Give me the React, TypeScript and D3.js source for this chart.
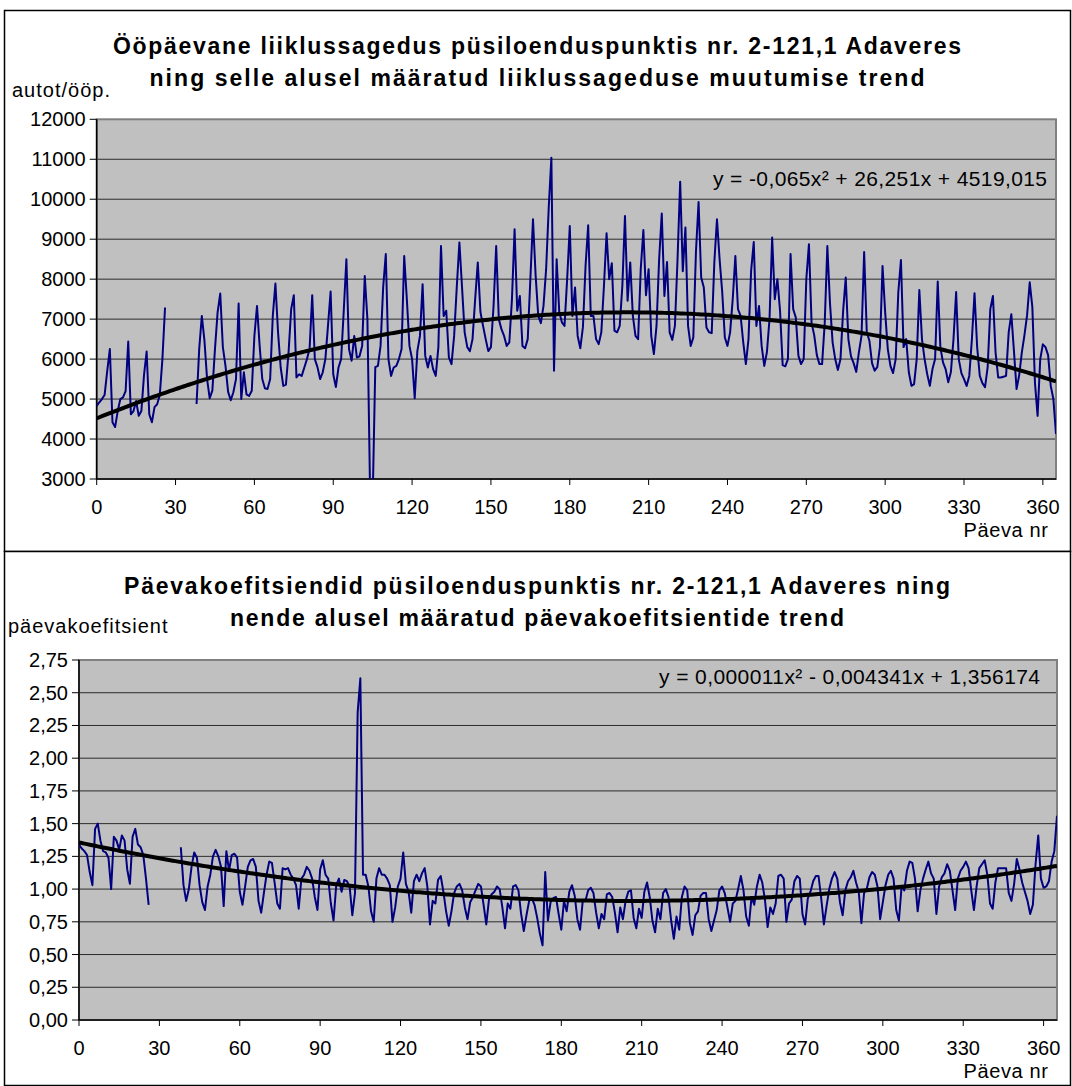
import * as d3 from "d3";

const FONT = "Arial, 'Liberation Sans', Helvetica, sans-serif";

const DAY_TICKS = [0, 30, 60, 90, 120, 150, 180, 210, 240, 270, 300, 330, 360];
const TRAFFIC_TICKS = [3000, 4000, 5000, 6000, 7000, 8000, 9000, 10000, 11000, 12000];
const COEF_TICKS = [0, 0.25, 0.5, 0.75, 1, 1.25, 1.5, 1.75, 2, 2.25, 2.5, 2.75];

// daily traffic, one row per week (Sun..Sat), null = no count
const TRAFFIC: (number | null)[] = [
  4830, 4920, 5000, 5100, 5700, 6250, 4420,
  4300, 4700, 5000, 5040, 5200, 6440, 4620,
  4700, 4950, 4580, 4700, 5600, 6190, 4620,
  4420, 4800, 4870, 5100, 6000, 7290, null,
  null, null, null, null, null, null, null,
  null, null, null, 4875, 6250, 7080, 6460,
  5500, 5020, 5210, 6250, 7170, 7640, 6300,
  5830, 5180, 4970, 5170, 5500, 7390, 5000,
  5670, 5120, 5080, 5210, 6580, 7330, 6330,
  5500, 5270, 5250, 5500, 7080, 7890, 6670,
  5790, 5330, 5360, 6170, 7250, 7600, 5540,
  5620, 5580, 5790, 6000, 6250, 7600, 6000,
  5800, 5500, 5670, 6000, 6830, 7690, 5620,
  5300, 5790, 6000, 7210, 8500, 6250, 5960,
  6580, 6040, 6070, 6330, 8080, 7000, 2750,
  2470, 5800, 5830, 6330, 7800, 8630, 6000,
  5580, 5790, 5830, 6000, 6250, 8580, 7500,
  6330, 6000, 5020, 6200, 6580, 7875, 6080,
  5790, 6080, 5750, 5580, 6300, 8830, 7080,
  7210, 6040, 5875, 6580, 7800, 8920, 7800,
  6670, 6300, 6200, 6500, 7500, 8420, 7180,
  6830, 6500, 6200, 6300, 7330, 8830, 7000,
  6750, 6580, 6330, 6420, 7500, 9250, 7210,
  7580, 6330, 6270, 6500, 8000, 9500, 8100,
  7080, 6900, 7330, 8250, 9800, 11040, 5710,
  8500, 7170, 6920, 6830, 8000, 9330, 7080,
  7790, 6580, 6270, 6800, 8330, 9350, 7080,
  7080, 6500, 6375, 6670, 7830, 9150, 8000,
  8400, 6710, 6670, 6830, 7830, 9580, 7460,
  8420, 7080, 6580, 6500, 8250, 9230, 7600,
  8250, 6580, 6125, 6830, 8500, 9640, 7580,
  8430, 6670, 6480, 6830, 8500, 10440, 8200,
  9290, 6830, 6330, 6540, 8670, 9930, 8040,
  7790, 6790, 6670, 6650, 8420, 9500, 8500,
  7680, 6540, 6330, 6670, 7500, 8580, 7250,
  7080, 6420, 5875, 6500, 8210, 8930, 6830,
  7330, 6330, 5830, 6170, 7000, 9040, 7500,
  8000, 7210, 5850, 5820, 6000, 8630, 7250,
  7040, 6080, 5875, 6000, 8000, 8875, 6900,
  6600, 6100, 5875, 5875, 6900, 8830, 7400,
  6420, 6000, 5730, 6000, 7200, 8040, 6500,
  6070, 5900, 5680, 6170, 6580, 8680, 6670,
  6460, 5900, 5710, 5800, 6300, 8330, 7170,
  6250, 5830, 5650, 6000, 7670, 8480, 6300,
  6500, 5670, 5330, 5375, 6000, 7730, 6500,
  6000, 5620, 5330, 5750, 6000, 7940, 6300,
  5920, 5750, 5420, 5670, 6500, 7680, 6000,
  5650, 5500, 5330, 5580, 6500, 7650, 6300,
  5580, 5400, 5300, 5800, 7250, 7580, 6170,
  5540, 5540, 5560, 5580, 6670, 7125, 6200,
  5250, 5600, 6170, 6600, 7100, 7920, 7300,
  5400, 4580, 6000, 6370, 6300, 6100, 5330,
  5000, 4125,
];

// day coefficients, same layout
const COEF: (number | null)[] = [
  1.34, 1.31, 1.29, 1.26, 1.13, 1.03, 1.46,
  1.50, 1.37, 1.29, 1.28, 1.24, 1.00, 1.40,
  1.37, 1.30, 1.41, 1.37, 1.15, 1.04, 1.40,
  1.46, 1.34, 1.32, 1.26, 1.08, 0.88, null,
  null, null, null, null, null, null, null,
  null, null, null, 1.32, 1.03, 0.91, 1.00,
  1.17, 1.28, 1.24, 1.03, 0.90, 0.84, 1.02,
  1.11, 1.25, 1.30, 1.25, 1.17, 0.87, 1.29,
  1.14, 1.26, 1.27, 1.24, 0.98, 0.88, 1.02,
  1.17, 1.22, 1.23, 1.17, 0.91, 0.82, 0.97,
  1.11, 1.21, 1.20, 1.05, 0.89, 0.85, 1.16,
  1.15, 1.16, 1.11, 1.08, 1.03, 0.85, 1.08,
  1.11, 1.17, 1.14, 1.08, 0.94, 0.84, 1.15,
  1.22, 1.11, 1.08, 0.89, 0.76, 1.03, 1.08,
  0.98, 1.07, 1.06, 1.02, 0.80, 0.97, 2.35,
  2.61, 1.11, 1.11, 1.02, 0.83, 0.75, 1.08,
  1.16, 1.11, 1.11, 1.08, 1.03, 0.75, 0.86,
  1.02, 1.08, 1.28, 1.04, 0.98, 0.82, 1.06,
  1.11, 1.06, 1.12, 1.16, 1.02, 0.73, 0.91,
  0.89, 1.07, 1.10, 0.98, 0.83, 0.72, 0.83,
  0.97, 1.02, 1.04, 0.99, 0.86, 0.77, 0.90,
  0.94, 0.99, 1.04, 1.02, 0.88, 0.73, 0.92,
  0.96, 0.98, 1.02, 1.00, 0.86, 0.70, 0.89,
  0.85, 1.02, 1.03, 0.99, 0.81, 0.68, 0.80,
  0.91, 0.93, 0.88, 0.78, 0.66, 0.57, 1.13,
  0.76, 0.90, 0.93, 0.94, 0.81, 0.69, 0.91,
  0.83, 0.98, 1.03, 0.95, 0.77, 0.69, 0.91,
  0.91, 0.99, 1.01, 0.97, 0.82, 0.70, 0.81,
  0.77, 0.96, 0.97, 0.94, 0.82, 0.67, 0.86,
  0.77, 0.91, 0.98, 0.99, 0.78, 0.70, 0.85,
  0.78, 0.98, 1.05, 0.94, 0.76, 0.67, 0.85,
  0.77, 0.97, 1.00, 0.94, 0.76, 0.62, 0.79,
  0.69, 0.94, 1.02, 0.99, 0.74, 0.65, 0.80,
  0.83, 0.95, 0.97, 0.97, 0.77, 0.68, 0.76,
  0.84, 0.99, 1.02, 0.97, 0.86, 0.75, 0.89,
  0.91, 1.00, 1.10, 0.99, 0.79, 0.72, 0.94,
  0.88, 1.02, 1.11, 1.05, 0.92, 0.71, 0.86,
  0.81, 0.89, 1.10, 1.11, 1.08, 0.75, 0.89,
  0.92, 1.06, 1.10, 1.08, 0.81, 0.73, 0.93,
  0.98, 1.06, 1.10, 1.10, 0.93, 0.73, 0.87,
  1.00, 1.08, 1.13, 1.08, 0.90, 0.80, 0.99,
  1.06, 1.09, 1.14, 1.05, 0.98, 0.74, 0.97,
  1.00, 1.09, 1.13, 1.11, 1.02, 0.77, 0.90,
  1.03, 1.11, 1.14, 1.08, 0.84, 0.76, 1.02,
  0.99, 1.14, 1.21, 1.20, 1.08, 0.83, 0.99,
  1.08, 1.15, 1.21, 1.12, 1.08, 0.81, 1.02,
  1.09, 1.12, 1.19, 1.14, 0.99, 0.84, 1.08,
  1.14, 1.17, 1.21, 1.16, 0.99, 0.84, 1.02,
  1.16, 1.19, 1.22, 1.11, 0.89, 0.85, 1.05,
  1.16, 1.16, 1.16, 1.16, 0.97, 0.91, 1.04,
  1.23, 1.15, 1.05, 0.98, 0.91, 0.81, 0.88,
  1.19, 1.41, 1.08, 1.01, 1.02, 1.06, 1.21,
  1.29, 1.56,
];

// polynomial trendlines a*x^2 + b*x + c
const TRAFFIC_TREND = [-0.065, 26.251, 4519.015];
const COEF_TREND = [0.00001055, -0.004341, 1.356174];

type Box = { left: number; right: number; top: number; bottom: number };
type Label = { text: string; x: number; y: number; len?: number };

type PanelProps = {
  id: string;
  frameTop: number;
  frameBottom: number;
  plot: Box;
  yDomain: [number, number];
  yTicks: number[];
  fmt: (v: number) => string;
  values: (number | null)[];
  trend: number[];
  titles: Label[];
  yLabel: Label;
  equation: Label;
};

const Panel = ({ id, frameTop, frameBottom, plot, yDomain, yTicks, fmt, values, trend, titles, yLabel, equation }: PanelProps) => {
  const x = d3.scaleLinear().domain([0, 365]).range([plot.left, plot.right]);
  const y = d3.scaleLinear().domain(yDomain).range([plot.bottom, plot.top]);

  const dataPath = d3
    .line<number | null>()
    .defined((d) => d != null)
    .x((_, i) => x(i))
    .y((d) => y(d as number))(values);

  const trendPts: [number, number][] = d3
    .range(0, 365.5, 1)
    .map((d) => [d, trend[0] * d * d + trend[1] * d + trend[2]]);
  const trendPath = d3
    .line<[number, number]>()
    .x((d) => x(d[0]))
    .y((d) => y(d[1]))(trendPts);

  return (
    <g>
      <rect x={4.5} y={frameTop} width={1066} height={frameBottom - frameTop} fill="#fff" stroke="#000" strokeWidth={1.5} />
      {titles.map((t, i) => (
        <text key={i} x={t.x} y={t.y} textAnchor="middle" fontSize={23} fontWeight="bold" textLength={t.len} lengthAdjust="spacing">
          {t.text}
        </text>
      ))}
      <text x={yLabel.x} y={yLabel.y} fontSize={20} letterSpacing={1}>
        {yLabel.text}
      </text>

      <clipPath id={id}>
        <rect x={plot.left} y={plot.top} width={plot.right - plot.left} height={plot.bottom - plot.top} />
      </clipPath>
      <rect x={plot.left} y={plot.top} width={plot.right - plot.left} height={plot.bottom - plot.top} fill="#c0c0c0" />

      {yTicks.slice(1, -1).map((v) => (
        <line key={v} x1={plot.left} x2={plot.right} y1={y(v)} y2={y(v)} stroke="#2b2b2b" strokeWidth={1} />
      ))}
      <rect x={plot.left} y={plot.top} width={plot.right - plot.left} height={plot.bottom - plot.top} fill="none" stroke="#808080" strokeWidth={2} />
      <line x1={plot.left} x2={plot.left} y1={plot.top} y2={plot.bottom} stroke="#000" strokeWidth={1.5} />
      <line x1={plot.left} x2={plot.right} y1={plot.bottom} y2={plot.bottom} stroke="#000" strokeWidth={1.5} />

      {yTicks.map((v) => (
        <g key={v}>
          <line x1={plot.left - 7} x2={plot.left} y1={y(v)} y2={y(v)} stroke="#000" strokeWidth={1} />
          <text x={plot.left - 11} y={y(v) + 7} textAnchor="end" fontSize={20}>
            {fmt(v)}
          </text>
        </g>
      ))}
      {DAY_TICKS.map((d) => (
        <g key={d}>
          <line x1={x(d)} x2={x(d)} y1={plot.bottom} y2={plot.bottom + 6} stroke="#000" strokeWidth={1} />
          <text x={x(d)} y={plot.bottom + 35} textAnchor="middle" fontSize={20}>
            {d}
          </text>
        </g>
      ))}
      <text x={1006} y={plot.bottom + 58} textAnchor="middle" fontSize={20} letterSpacing={0.6}>
        Päeva nr
      </text>

      <g clipPath={`url(#${id})`}>
        <path d={dataPath ?? ""} fill="none" stroke="#000080" strokeWidth={2} strokeLinejoin="round" />
        <path d={trendPath ?? ""} fill="none" stroke="#000" strokeWidth={4} strokeLinejoin="round" />
      </g>

      <text x={equation.x} y={equation.y} textAnchor="end" fontSize={21} textLength={equation.len} lengthAdjust="spacing">
        {equation.text}
      </text>
    </g>
  );
};

const fmtInt = (v: number) => String(v);
const fmtCoef = (v: number) => d3.format(".2f")(v).replace(".", ",");

export default function App() {
  return (
    <svg
      width={1072}
      height={1086}
      style={{ position: "absolute", left: 0, top: 0, background: "#fff" }}
      fontFamily={FONT}
    >
      <Panel
        id="clip-top"
        frameTop={10.5}
        frameBottom={551.5}
        plot={{ left: 96.7, right: 1056, top: 119.3, bottom: 479 }}
        yDomain={[3000, 12000]}
        yTicks={TRAFFIC_TICKS}
        fmt={fmtInt}
        values={TRAFFIC}
        trend={TRAFFIC_TREND}
        titles={[
          { text: "Ööpäevane liiklussagedus püsiloenduspunktis nr. 2-121,1 Adaveres", x: 537, y: 54, len: 848 },
          { text: "ning selle alusel määratud liiklussageduse muutumise trend", x: 537, y: 86, len: 775 },
        ]}
        yLabel={{ text: "autot/ööp.", x: 12, y: 97 }}
        equation={{ text: "y = -0,065x² + 26,251x + 4519,015", x: 1047, y: 186, len: 334 }}
      />
      <Panel
        id="clip-bottom"
        frameTop={551.5}
        frameBottom={1085.5}
        plot={{ left: 79, right: 1057, top: 660, bottom: 1020 }}
        yDomain={[0, 2.75]}
        yTicks={COEF_TICKS}
        fmt={fmtCoef}
        values={COEF}
        trend={COEF_TREND}
        titles={[
          { text: "Päevakoefitsiendid püsiloenduspunktis nr. 2-121,1 Adaveres ning", x: 537, y: 594, len: 826 },
          { text: "nende alusel määratud päevakoefitsientide trend", x: 537, y: 626, len: 614 },
        ]}
        yLabel={{ text: "päevakoefitsient", x: 8, y: 633 }}
        equation={{ text: "y = 0,000011x² - 0,004341x + 1,356174", x: 1040, y: 684, len: 381 }}
      />
    </svg>
  );
}
